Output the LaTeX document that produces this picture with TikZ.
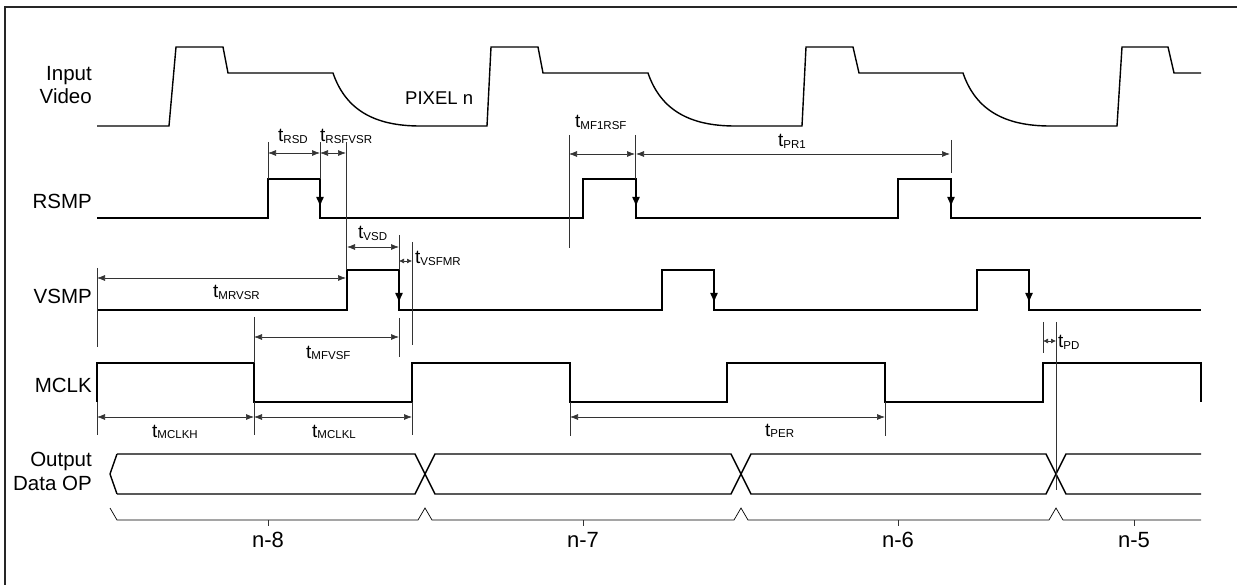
\documentclass[tikz,border=0pt]{standalone}
\usepackage{fontspec}
\setmainfont{Liberation Sans}
\usetikzlibrary{arrows.meta}
\newcommand{\tmx}[1]{{\fontsize{19}{20}\selectfont t}\raisebox{-1.5pt}{\fontsize{11.5}{12}\selectfont #1}}
\begin{document}
\begin{tikzpicture}[x=1pt,y=-1pt,
  sig/.style={line width=1.4pt, line join=miter},
  dim/.style={line width=0.7pt, black!80},
  dimarr/.style={dim, {Latex[length=8pt,width=6pt]}-{Latex[length=8pt,width=6pt]}},
  smallarr/.style={dim, {Latex[length=5pt,width=5pt]}-{Latex[length=5pt,width=5pt]}},
  edgearr/.style={line width=1.4pt, -{Latex[length=10pt,width=8pt]}},
  lab/.style={font=\fontsize{20.5}{23}\selectfont, anchor=base east, inner sep=0pt},
  tlab/.style={anchor=base west, inner sep=0pt},
  nlab/.style={font=\fontsize{22}{24}\selectfont, anchor=base, inner sep=0pt}]
\useasboundingbox (0,0) rectangle (1237,585);
\draw[line width=1.5pt, black!85] (5,585) -- (5,7) -- (1237,7);

% signal labels
\node[lab] (lin1) at (92,81) {Input};
\node[lab] (lin2) at (92,104) {Video};
\node[lab] (lrs) at (92,209) {RSMP};
\node[lab] (lvs) at (92,304) {VSMP};
\node[lab] (lmc) at (92,392) {MCLK};
\node[lab] (lop1) at (92,466) {Output};
\node[lab] (lop2) at (92,490) {Data OP};

% input video
\draw[sig] (97,126) -- (169,126) -- (176,47) -- (223,47) -- (228,73) -- (333,73)
  .. controls (345,108) and (372,126) .. (420,126) -- (487,126) -- (491,47) -- (538,47) -- (543,73) -- (648,73)
  .. controls (660,108) and (687,126) .. (735,126) -- (802,126) -- (806,47) -- (853,47) -- (859,73) -- (963,73)
  .. controls (975,108) and (1002,126) .. (1050,126) -- (1117,126) -- (1122,47) -- (1168,47) -- (1174,73) -- (1201,73);
\node[anchor=base west, inner sep=0pt, font=\fontsize{18.5}{20}\selectfont] (pix) at (405,105) {PIXEL n};

% RSMP
\draw[sig] (97,218) -- (268,218) -- (268,179) -- (320,179) -- (320,218) -- (583,218) -- (583,179) -- (636,179) -- (636,218)
  -- (898,218) -- (898,179) -- (951,179) -- (951,218) -- (1201,218);
\foreach \x in {320,636,951} \draw[edgearr] (\x,179) -- (\x,207);

% VSMP
\draw[sig] (97,310) -- (347,310) -- (347,270) -- (399,270) -- (399,310) -- (662,310) -- (662,270) -- (714,270) -- (714,310)
  -- (977,310) -- (977,270) -- (1029,270) -- (1029,310) -- (1201,310);
\foreach \x in {399,714,1029} \draw[edgearr] (\x,270) -- (\x,303);

% MCLK
\draw[sig] (97,402) -- (97,363) -- (254,363) -- (254,402) -- (412,402) -- (412,363) -- (570,363) -- (570,402) -- (727,402)
  -- (727,363) -- (885,363) -- (885,402) -- (1043,402) -- (1043,363) -- (1201,363) -- (1201,402);

% output data
\draw[sig] (117,454) -- (110,474) -- (117,494);
\draw[sig] (117,454) -- (415,454) -- (435,494) -- (731,494) -- (751,454) -- (1046,454) -- (1066,494) -- (1201,494);
\draw[sig] (117,494) -- (415,494) -- (435,454) -- (731,454) -- (751,494) -- (1046,494) -- (1066,454) -- (1201,454);

% brace
\draw[dim, black] (110,508) -- (117,520) -- (418,520) -- (425,508) -- (432,520) -- (734,520) -- (741,508) -- (748,520)
  -- (1049,520) -- (1056,508) -- (1063,520) -- (1201,520);
\foreach \x in {268,583,898,1134} \draw[dim] (\x,520) -- (\x,526);
\node[nlab] (n8) at (268,547) {n-8};
\node[nlab] (n7) at (583,547) {n-7};
\node[nlab] (n6) at (898,547) {n-6};
\node[nlab] (n5) at (1134,547) {n-5};

% dimension lines
\draw[dim] (268,142) -- (268,179);
\draw[dim] (320,142) -- (320,179);
\draw[dimarr] (268,153) -- (320,153);
\draw[dimarr] (320,153) -- (346,153);
\draw[dim] (346,142) -- (346,270);
\node[tlab] (trsd) at (278,142) {\tmx{RSD}};
\node[tlab] (trsfvsr) at (320,142) {\tmx{RSFVSR}};

\draw[dim] (399,235) -- (399,270);
\draw[dimarr] (347,247) -- (399,247);
\node[tlab] (tvsd) at (358,239) {\tmx{VSD}};

\draw[dim] (412,242) -- (412,345);
\draw[smallarr] (399,261) -- (412,261);
\node[tlab] (tvsfmr) at (415,264) {\tmx{VSFMR}};

\draw[dim] (97,268) -- (97,347);
\draw[dimarr] (97,278) -- (346,278);
\node[tlab] (tmrvsr) at (213,298) {\tmx{MRVSR}};

\draw[dim] (254,317) -- (254,363);
\draw[dim] (399,318) -- (399,357);
\draw[dimarr] (254,337) -- (399,337);
\node[tlab] (tmfvsf) at (306,358) {\tmx{MFVSF}};

\draw[dim] (569,135) -- (569,248);
\draw[dim] (635,135) -- (635,179);
\draw[dimarr] (569,154) -- (635,154);
\node[tlab] (tmf1rsf) at (575,128) {\tmx{MF1RSF}};

\draw[dimarr] (636,154) -- (950,154);
\draw[dim] (951,140) -- (951,173);
\node[tlab] (tpr1) at (778,147) {\tmx{PR1}};

\draw[dim] (1043,322) -- (1043,353);
\draw[dim] (1056,322) -- (1056,490);
\draw[smallarr] (1043,341) -- (1056,341);
\node[tlab] (tpd) at (1058,348) {\tmx{PD}};

\draw[dim] (97,402) -- (97,435);
\draw[dim] (254,402) -- (254,435);
\draw[dim] (412,402) -- (412,435);
\draw[dimarr] (97,417) -- (254,417);
\draw[dimarr] (254,417) -- (412,417);
\node[tlab] (tmclkh) at (152,437) {\tmx{MCLKH}};
\node[tlab] (tmclkl) at (312,437) {\tmx{MCLKL}};

\draw[dim] (570,402) -- (570,436);
\draw[dim] (885,402) -- (885,436);
\draw[dimarr] (570,417) -- (885,417);
\node[tlab] (tper) at (765,436) {\tmx{PER}};
\end{tikzpicture}
\end{document}
